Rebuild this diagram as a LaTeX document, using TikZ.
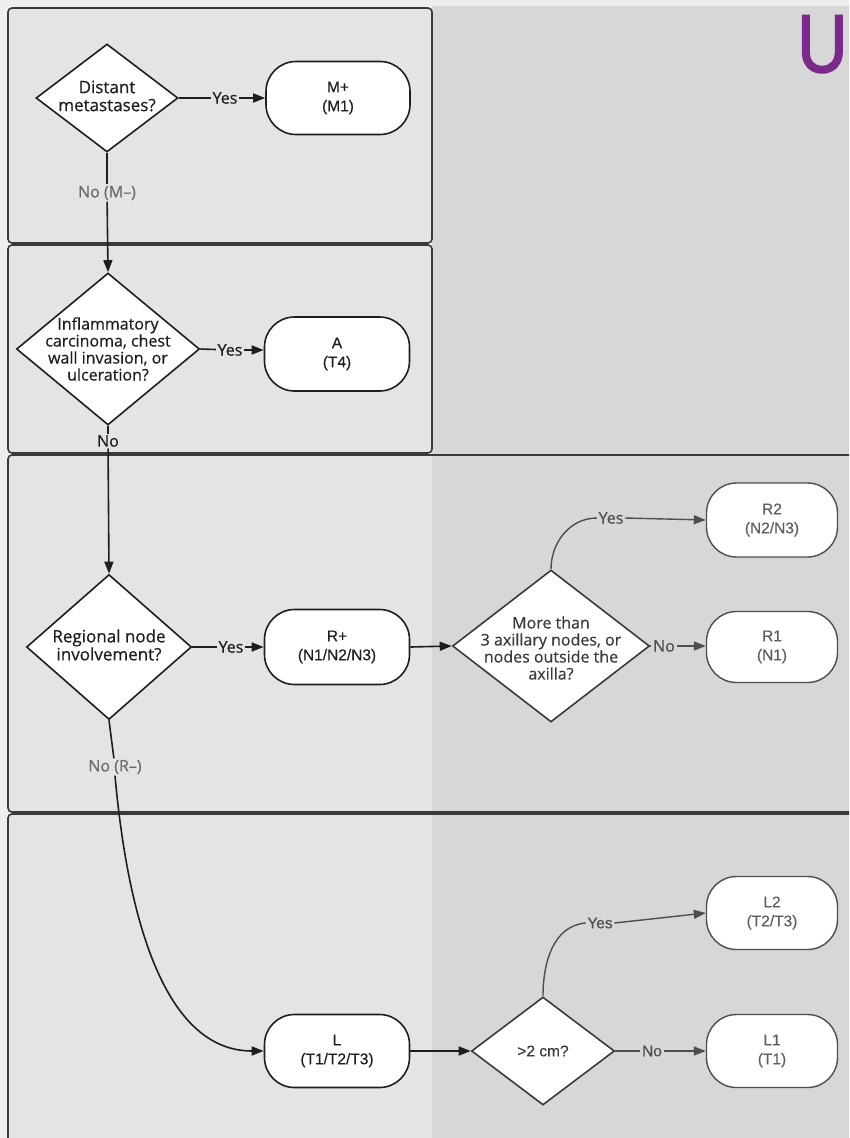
\documentclass[tikz,border=0pt]{standalone}
\usepackage{fontspec}
\usepackage{graphicx}
\setmainfont{Open Sans}[FakeBold=0.5]
\newfontfamily\arialf{Liberation Sans}[FakeBold=0.3]
\newfontfamily\letterf{Liberation Sans}[FakeBold=2.2]
\usetikzlibrary{shapes.geometric,arrows.meta}
\definecolor{pagebg}{HTML}{EEEEEE}
\definecolor{leftbg}{HTML}{E3E4E3}
\definecolor{rightbg}{HTML}{D6D7D6}
\definecolor{lblgray}{HTML}{6A6A6A}
\definecolor{darkline}{HTML}{1E1E1E}
\definecolor{grayline}{HTML}{4E4E4E}
\definecolor{graytext}{HTML}{5E5E5E}
\definecolor{panelline}{HTML}{3A3A3A}
\definecolor{upurple}{HTML}{7B2A8B}
\begin{document}
\begin{tikzpicture}[x=1pt,y=-1pt,
  panel/.style={draw=panelline, line width=1.6pt},
  decision/.style={diamond, draw=darkline, line width=1.6pt, fill=white, inner sep=0pt},
  graydecision/.style={decision, draw=grayline},
  dtext/.style={align=center, inner sep=0pt, text=darkline},
  term/.style={draw=darkline, line width=1.6pt, fill=white, rounded corners=30pt,
    minimum width=145pt, minimum height=74pt, align=center, inner sep=0pt,
    text=darkline, font=\arialf\fontsize{15.5}{19}\selectfont},
  grayterm/.style={term, draw=grayline, line width=1.4pt, minimum width=131pt, text=graytext},
  lbl/.style={inner sep=1.5pt, font=\fontsize{16}{18}\selectfont, text=darkline},
  graylbl/.style={lbl, text=lblgray},
  conn/.style={draw=darkline, line width=1.6pt},
  arr/.style={conn, -{Triangle[length=12pt,width=9pt]}},
  gconn/.style={draw=grayline, line width=1.4pt},
  garr/.style={gconn, -{Triangle[length=12pt,width=9pt]}}
]
\useasboundingbox (0,0) rectangle (849,1138);
% backgrounds
\fill[pagebg] (0,0) rectangle (849,1138);
\fill[rightbg] (432,6) rectangle (849,1138);
\fill[leftbg] (8,455) rectangle (432,1138);
% panels
\draw[panel, fill=leftbg, rounded corners=4pt] (8,8) rectangle (432,243);
\draw[panel, fill=leftbg, rounded corners=4pt] (8,245) rectangle (432,453);
\draw[panel, rounded corners=4pt] (849,455) -- (8,455) -- (8,812) -- (849,812);
\draw[panel, rounded corners=4pt] (849,814) -- (8,814) -- (8,1145);
% letter
\node[anchor=base west, inner sep=0pt, text=upurple, font=\letterf\fontsize{82}{82}\selectfont] (U) at (797,72) {\scalebox{0.85}[1]{U}};

% row 1
\node[decision, minimum width=142pt, minimum height=108pt] (D1) at (107,98) {};
\node[dtext, font=\fontsize{17}{18}\selectfont] (D1t) at (107,96) {Distant\\metastases?};
\node[term, minimum width=144pt, minimum height=73pt] (M1) at (338,98) {M+\\(M1)};
\node[lbl] (yes1) at (225,98) {Yes};
\draw[conn] (D1.east) -- (yes1);
\draw[arr] (yes1) -- (M1.west);
\node[graylbl] (noM) at (107,193) {No (M–)};
\draw[conn] (D1.south) -- (noM);

% row 2
\node[decision, minimum width=183pt, minimum height=152pt] (D2) at (108,349) {};
\node[dtext, font=\fontsize{16}{17}\selectfont] (D2t) at (108,349) {Inflammatory\\carcinoma, chest\\wall invasion, or\\ulceration?};
\draw[arr] (noM) -- (D2.north);
\node[term] (A) at (337,354) {A\\(T4)};
\node[lbl] (yes2) at (230,350) {Yes};
\draw[conn] (D2.east) -- (yes2);
\draw[arr] (yes2) -- (A.west |- yes2);
\node[lbl] (no2) at (108,441) {No};
\draw[conn] (D2.south) -- (no2);

% row 3
\node[decision, minimum width=165pt, minimum height=145pt] (D3) at (109,647) {};
\node[dtext, font=\fontsize{17}{18}\selectfont] (D3t) at (109,645) {Regional node\\involvement?};
\draw[arr] (no2) -- (D3.north);
\node[term, minimum height=75pt] (Rp) at (337,647) {R+\\(N1/N2/N3)};
\node[lbl] (yes3) at (231,647) {Yes};
\draw[conn] (D3.east) -- (yes3);
\draw[arr] (yes3) -- (Rp.west);
\node[graydecision, draw=panelline, minimum width=197pt, minimum height=152pt] (D4) at (551,646) {};
\node[dtext, text=panelline, font=\fontsize{16}{17}\selectfont] (D4t) at (551,648) {More than\\3 axillary nodes, or\\nodes outside the\\axilla?};
\draw[arr] (Rp.east) -- (D4.west);
\node[grayterm] (R2) at (772,520) {R2\\(N2/N3)};
\node[grayterm, minimum height=71pt] (R1) at (772,647) {R1\\(N1)};
\node[graylbl, text=grayline] (yes4) at (611,518) {Yes};
\draw[gconn] (D4.north) to[out=90,in=180] (yes4.west);
\draw[garr] (yes4.east) -- (R2.west);
\node[graylbl, text=grayline] (no4) at (664,646) {No};
\draw[gconn] (D4.east) -- (no4);
\draw[garr] (no4) -- (R1.west |- no4);
\node[graylbl] (noR) at (115,767) {No (R–)};
\draw[conn] (D3.south) -- (noR);

% row 4
\node[term, minimum height=73pt] (L) at (337,1051) {L\\(T1/T2/T3)};
\draw[arr] (noR.south) .. controls (128,920) and (165,1051) .. (L.west);
\node[graydecision, draw=panelline, minimum width=143pt, minimum height=108pt] (D5) at (543,1051) {};
\node[dtext, text=panelline, font=\arialf\fontsize{15.5}{18}\selectfont] (D5t) at (543,1051) {>2 cm?};
\draw[arr] (L.east) -- (D5.west);
\node[grayterm, minimum height=73pt] (L2) at (772,913) {L2\\(T2/T3)};
\node[grayterm, minimum height=73pt] (L1) at (772,1051) {L1\\(T1)};
\node[graylbl, text=grayline, font=\arialf\fontsize{15.5}{18}\selectfont] (yes5) at (600,923) {Yes};
\draw[gconn] (D5.north) to[out=90,in=185] (yes5.west);
\draw[garr] (yes5.east) -- (L2.west);
\node[graylbl, text=grayline, font=\arialf\fontsize{15.5}{18}\selectfont] (no5) at (652,1051) {No};
\draw[gconn] (D5.east) -- (no5);
\draw[garr] (no5) -- (L1.west);
\end{tikzpicture}
\end{document}
